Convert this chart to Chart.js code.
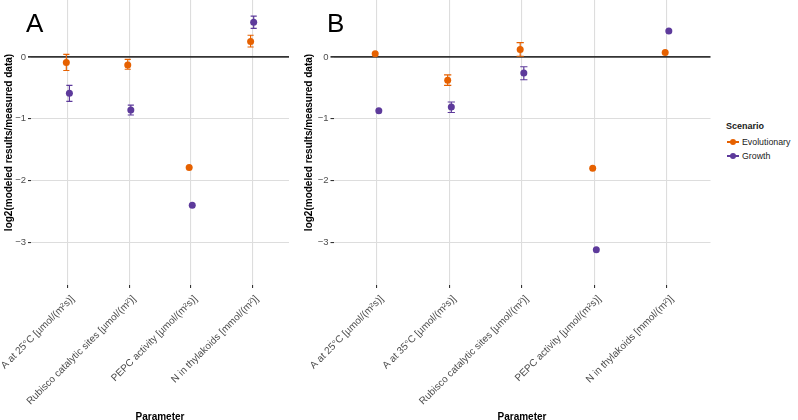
<!DOCTYPE html>
<html>
<head>
<meta charset="utf-8">
<script src="https://cdn.jsdelivr.net/npm/chart.js@4.4.1/dist/chart.umd.min.js"></script>
<style>
  body { margin: 0; background: #fff; font-family: "Liberation Sans", Arial, sans-serif; }
  #wrap { position: relative; width: 798px; height: 420px; overflow: hidden; }
  canvas { position: absolute; top: 0; }
  .tag { position: absolute; font-size: 26px; color: #000; line-height: 1; }
  #legend { position: absolute; left: 726px; top: 120px; font-size: 8.8px; color: #1a1a1a; }
  #legend .title { font-weight: bold; font-size: 9px; margin-bottom: 3px; line-height: 12px; }
  #legend .item { position: relative; height: 14px; line-height: 14px; padding-left: 16px; }
  #legend .line { position: absolute; left: 1px; top: 6px; width: 12px; height: 2px; }
  #legend .dot { position: absolute; left: 4px; top: 4px; width: 6px; height: 6px; border-radius: 50%; }
</style>
</head>
<body>
<div id="wrap">
  <canvas id="panelA" width="292" height="420" style="left:0px"></canvas>
  <canvas id="panelB" width="412" height="420" style="left:300px"></canvas>
  <div class="tag" style="left:26px;top:10px">A</div>
  <div class="tag" style="left:327px;top:10px">B</div>
  <div id="legend">
    <div class="title">Scenario</div>
    <div class="item"><span class="line" style="background:#E66100"></span><span class="dot" style="background:#E66100"></span>Evolutionary</div>
    <div class="item"><span class="line" style="background:#5D3A9B"></span><span class="dot" style="background:#5D3A9B"></span>Growth</div>
  </div>
</div>
<script>
// categories
const catsA = ['A at 25°C [µmol/(m²s)]', 'Rubisco catalytic sites [µmol/(m²)]', 'PEPC activity [µmol/(m²s)]', 'N in thylakoids [mmol/(m²)]'];
const catsB = ['A at 25°C [µmol/(m²s)]', 'A at 35°C [µmol/(m²s)]', 'Rubisco catalytic sites [µmol/(m²)]', 'PEPC activity [µmol/(m²s)]', 'N in thylakoids [mmol/(m²)]'];

// panel A values (log2 ratio) with error bar bounds
const evoA   = [-0.09, -0.13, -1.79, 0.25];
const evoALo = [-0.22, -0.20, null, 0.16];
const evoAHi = [0.04, -0.04, null, 0.35];
const growA   = [-0.59, -0.86, -2.40, 0.56];
const growALo = [-0.72, -0.94, null, 0.46];
const growAHi = [-0.46, -0.78, null, 0.66];

// panel B
const evoB   = [0.05, -0.38, 0.12, -1.80, 0.07];
const evoBLo = [null, -0.46, 0.01, null, null];
const evoBHi = [null, -0.29, 0.23, null, null];
const growB   = [-0.87, -0.81, -0.26, -3.12, 0.42];
const growBLo = [null, -0.90, -0.37, null, null];
const growBHi = [null, -0.73, -0.16, null, null];

const yTicks = [-3, -2, -1, 0];
const yMin = -3.69, yMax = 0.92;

const ORANGE = '#E66100';
const PURPLE = '#5D3A9B';
const dodge = 0.025;
const capHalf = 0.05;

const errorBars = {
    id: 'errorBars',
    beforeDatasetsDraw(chart) {
        const ctx = chart.ctx;
        const xs = chart.scales.x, ys = chart.scales.y;
        chart.data.datasets.forEach(ds => {
            ctx.save();
            ctx.strokeStyle = ds.borderColor;
            ctx.lineWidth = 1.2;
            ds.data.forEach((p, i) => {
                const lo = ds.errLo[i], hi = ds.errHi[i];
                if (lo === null || hi === null) return;
                const x = xs.getPixelForValue(p.x);
                const x0 = xs.getPixelForValue(p.x - capHalf);
                const x1 = xs.getPixelForValue(p.x + capHalf);
                const y0 = ys.getPixelForValue(lo);
                const y1 = ys.getPixelForValue(hi);
                ctx.beginPath();
                ctx.moveTo(x, y0); ctx.lineTo(x, y1);
                ctx.moveTo(x0, y0); ctx.lineTo(x1, y0);
                ctx.moveTo(x0, y1); ctx.lineTo(x1, y1);
                ctx.stroke();
            });
            ctx.restore();
        });
    }
};

function makeSeries(label, vals, lo, hi, color, shift) {
    return {
        label: label,
        data: vals.map((v, i) => ({ x: i + shift, y: v })),
        errLo: lo,
        errHi: hi,
        backgroundColor: color,
        borderColor: color,
        pointRadius: 3.5,
        pointBorderWidth: 0,
        showLine: false
    };
}

function create_panel(element_id, cats, evo, evoLo, evoHi, grow, growLo, growHi, yAxisWidth, padRight) {
    const config = {
        type: 'scatter',
        data: {
            datasets: [
                makeSeries('Evolutionary', evo, evoLo, evoHi, ORANGE, -dodge),
                makeSeries('Growth', grow, growLo, growHi, PURPLE, dodge)
            ]
        },
        options: {
            responsive: false,
            animation: false,
            devicePixelRatio: 1,
            layout: { autoPadding: false, padding: { left: 3, right: padRight, top: 0, bottom: 0 } },
            plugins: { legend: { display: false }, tooltip: { enabled: false } },
            scales: {
                x: {
                    type: 'linear',
                    min: -0.6,
                    max: cats.length - 1 + 0.6,
                    afterBuildTicks: axis => { axis.ticks = cats.map((c, i) => ({ value: i })); },
                    afterFit: axis => { axis.height = 135; axis.paddingLeft = 0; axis.paddingRight = 0; },
                    border: { display: false },
                    grid: { color: '#dddddd', lineWidth: 1.1, tickColor: '#333333', tickLength: 3 },
                    ticks: {
                        autoSkip: false,
                        minRotation: 45,
                        maxRotation: 45,
                        padding: 5,
                        labelOffset: 5,
                        color: '#4d4d4d',
                        font: { family: 'Liberation Sans', size: 10 },
                        callback: v => cats[v]
                    },
                    title: {
                        display: true,
                        text: 'Parameter',
                        color: '#000',
                        padding: { top: 0, bottom: -3 },
                        font: { family: 'Liberation Sans', size: 10, weight: 'bold' }
                    }
                },
                y: {
                    min: yMin,
                    max: yMax,
                    afterBuildTicks: axis => { axis.ticks = yTicks.map(v => ({ value: v })); },
                    afterFit: axis => { axis.width = yAxisWidth; axis.paddingTop = 0; axis.paddingBottom = 0; },
                    border: { display: false },
                    grid: {
                        color: c => (c.tick && c.tick.value === 0) ? '#333333' : '#dddddd',
                        lineWidth: c => (c.tick && c.tick.value === 0) ? 1.7 : 1.1,
                        tickColor: '#333333',
                        tickLength: 3
                    },
                    ticks: {
                        padding: 2,
                        color: '#4d4d4d',
                        font: { family: 'Liberation Sans', size: 9.5 },
                        callback: v => String(v).replace('-', '\u2212')
                    },
                    title: {
                        display: true,
                        text: 'log2(modeled results/measured data)',
                        color: '#000',
                        padding: { top: 0, bottom: 0 },
                        font: { family: 'Liberation Sans', size: 10, weight: 'bold' }
                    }
                }
            }
        },
        plugins: [errorBars]
    };

    new Chart(document.getElementById(element_id), config);
}

create_panel('panelA', catsA, evoA, evoALo, evoAHi, growA, growALo, growAHi, 28, 3);
create_panel('panelB', catsB, evoB, evoBLo, evoBHi, growB, growBLo, growBHi, 30.5, 1.5);
</script>
</body>
</html>
